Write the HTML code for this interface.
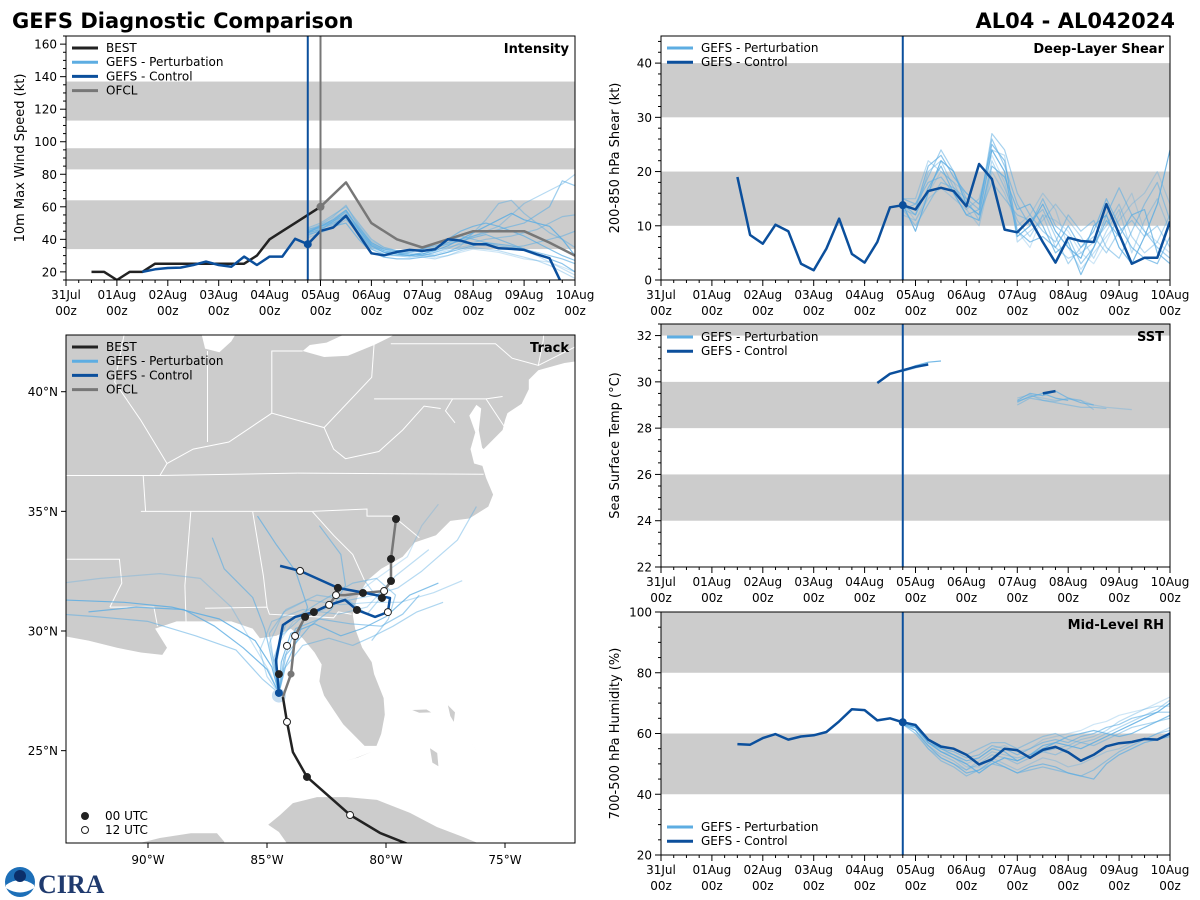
<!DOCTYPE html>
<html><head><meta charset="utf-8">
<style>
html,body{margin:0;padding:0;background:#fff;}
svg{display:block;font-family:"DejaVu Sans","Liberation Sans",sans-serif;}
</style></head>
<body>
<svg id="fig" width="1200" height="900" viewBox="0 0 1200 900" xmlns="http://www.w3.org/2000/svg">
<text x="12" y="28" font-size="21" font-weight="bold" fill="#000">GEFS Diagnostic Comparison</text>
<text x="1175" y="28" font-size="21" font-weight="bold" fill="#000" text-anchor="end">AL04 - AL042024</text>
<g id="logo">
<circle cx="20" cy="882" r="15" fill="#1d6fb8"/>
<path d="M6 885 Q20 875 34 885 L34 888 Q20 897 6 888 Z" fill="#fff"/>
<circle cx="20" cy="876" r="6" fill="#0b2f6b"/>
<text x="38" y="893" font-size="26" font-weight="bold" fill="#1f3a6e" font-family="Liberation Serif,serif">CIRA</text>
</g>
</svg>
<script>
// ---------------- data ----------------
const dayLabels = ["31Jul","01Aug","02Aug","03Aug","04Aug","05Aug","06Aug","07Aug","08Aug","09Aug","10Aug"];
const initDay = 4.75;
const ofclDay = 5.0;

const bestIntStart = 0.5;
const bestInt = [20,20,15,20,20,25,25,25,25,25,25,25,25,30,40,45,50,55,60];
const ofclIntDays = [5.0,5.5,6.0,6.5,7.0,7.5,8.0,8.5,9.0,9.5,10.0];
const ofclInt = [60,75,50,40,35,40,45,45,45,38,30];
const ctrlIntStart = 1.5;
const ctrlInt = [20,21.6,22.4,22.6,24.2,26.3,24.2,23.2,29.4,24.2,29.4,29.4,40.3,37,45.2,47.3,54.5,43,31.4,30.2,32.3,33.5,32.9,33.9,40,39.2,37,37,34.5,34.1,33.5,30.8,28.4,12];
const pertIntStart = 4.75;
const pertInt = [
 [44,48,52,58,46,36,32,31,30,31,33,36,40,44,48,52,56,52,50,48,40,30],
 [42,46,50,55,45,34,30,30,29,30,32,34,38,42,45,48,55,62,66,70,74,80],
 [45,47,49,54,44,35,32,31,32,34,36,38,40,42,44,46,48,50,55,60,76,73],
 [46,49,52,56,48,37,33,32,31,30,31,33,35,37,36,35,34,33,30,26,22,18],
 [43,45,48,50,40,32,29,28,28,29,30,32,34,36,38,37,36,34,31,28,25,20],
 [47,50,55,60,50,40,35,33,32,31,30,32,36,44,52,62,64,56,50,44,40,35],
 [41,44,47,52,44,36,33,32,30,29,28,30,33,35,34,33,31,29,27,24,20,16],
 [44,46,51,57,47,38,34,33,33,34,37,40,45,48,50,48,45,42,38,34,30,27],
 [45,48,50,53,43,34,31,30,30,31,34,38,42,40,38,36,35,36,38,40,42,45],
 [43,47,53,58,49,39,35,33,31,30,29,30,32,34,33,32,30,28,27,26,23,20],
 [46,48,51,55,46,37,33,31,30,32,35,37,39,41,43,40,37,34,32,30,28,25],
 [44,49,54,61,48,38,34,32,31,30,32,35,37,38,40,41,42,44,46,50,54,55]
];

const ctrlShearStart = 1.5;
const ctrlShear = [19,8.3,6.7,10.2,9,3,1.8,5.8,11.3,4.8,3.2,7,13.4,13.8,13,16.4,17,16.4,13.6,21.4,18.6,9.3,8.8,11.2,7,3.2,7.8,7.2,7,14,8.5,3,4.1,4.1,10.8];
const pertShearStart = 4.75;
const pertShear = [
 [14,9,16,22,20,14,12,24,20,8,10,14,9,6,4,10,12,6,3,8,14,24],
 [13,12,20,22,17,15,11,22,17,11,8,12,6,4,5,7,10,14,8,5,7,12],
 [15,14,18,19,16,12,13,26,21,14,10,15,10,8,3,6,12,17,12,9,6,4],
 [12,11,15,17,15,13,10,20,16,10,12,16,13,6,2,5,8,11,14,16,20,14],
 [14,13,21,23,19,16,14,25,22,9,7,8,6,10,6,9,15,10,6,4,3,8],
 [13,10,14,18,17,14,12,18,15,12,11,13,8,3,6,8,5,9,11,8,10,6],
 [15,15,22,20,18,13,15,24,23,7,9,11,14,11,8,4,9,13,5,11,15,9],
 [14,12,17,21,16,12,11,21,19,13,14,10,5,7,1,6,11,8,12,13,5,3],
 [13,14,19,24,20,15,13,27,24,16,12,9,7,12,9,11,6,4,9,14,18,11],
 [14,11,16,20,18,16,14,23,18,9,6,12,11,9,5,3,7,12,16,9,7,5]
];

const ctrlSstSeg1Start = 4.25;
const ctrlSstSeg1 = [29.95,30.35,30.5,30.65,30.75];
const ctrlSstSeg2Start = 7.5;
const ctrlSstSeg2 = [29.5,29.6];
const pertSstSeg1Start = 4.75;
const pertSstSeg1 = [[30.5,30.7,30.85,30.9],[30.45,30.6,30.75],[30.5,30.65,30.8]];
const pertSstSeg2Start = 7.0;
const pertSstSeg2 = [
 [29.1,29.4,29.3,29.2,29.25,29.2,29.0,28.9,28.85,28.8],
 [29.2,29.5,29.4,29.6,29.3,29.1,29.0],
 [29.0,29.3,29.2,29.1,29.0,28.9,28.9,28.85],
 [29.3,29.45,29.2,29.15,29.3,29.2,28.8],
 [29.15,29.35,29.5,29.3,29.2]
];

const ctrlRhStart = 1.5;
const ctrlRh = [56.5,56.3,58.5,59.8,58,59,59.4,60.5,64,68,67.7,64.3,65,63.7,62.8,58,55.7,55,53,49.8,51.5,55,54.5,52,54.6,55.6,53.8,51,53,55.8,56.8,57.2,58.2,58,60];
const pertRhStart = 4.75;
const pertRh = [
 [63,62,57,54,52,50,47,50,52,51,53,55,57,56,55,57,59,61,63,65,67,70],
 [64,61,56,53,51,48,50,53,52,50,52,54,53,55,57,58,60,62,64,66,68,71],
 [63,62,58,55,54,52,53,56,55,53,55,57,58,57,59,60,62,63,65,66,67,67],
 [64,63,57,54,52,49,49,52,50,48,50,52,51,49,50,52,54,55,57,58,60,62],
 [63,61,56,52,50,47,48,51,49,47,49,50,49,47,46,45,50,53,55,57,58,59],
 [64,62,58,56,55,53,55,57,57,55,57,59,60,58,57,56,58,60,62,63,64,65],
 [63,61,55,52,50,48,51,54,53,52,53,54,55,56,58,59,61,64,66,68,69,69],
 [64,62,57,55,53,51,52,55,54,51,53,56,57,59,60,61,60,59,60,62,64,66],
 [63,60,55,51,49,46,48,50,49,47,48,49,48,47,46,48,51,54,56,58,60,61],
 [64,62,58,54,53,50,52,55,56,54,55,58,59,60,61,63,64,66,67,68,70,72]
];

// track data [lon, lat]
const bestTrack = [[-78.99,21.06],[-80.25,21.56],[-81.51,22.31],[-83.32,23.90],[-83.91,24.94],[-84.16,26.20],[-84.33,27.24]];
const ofclTrack = [[-84.33,27.24],[-83.99,28.20],[-83.82,29.79],[-83.40,30.59],[-83.03,30.79],[-82.39,31.09],[-82.10,31.50],[-81.72,31.50],[-80.97,31.59],[-80.08,31.67],[-79.79,32.09],[-79.79,33.01],[-79.58,34.68]];
const ctrlTrack = [[-84.50,27.41],[-84.62,28.79],[-84.33,30.25],[-83.82,30.59],[-83.03,30.79],[-82.39,31.09],[-81.72,31.30],[-81.22,30.88],[-80.46,30.59],[-79.92,30.79],[-79.83,31.38],[-80.67,31.55],[-82.02,31.80],[-83.61,32.51],[-84.45,32.72]];
const trackMarkers = [[-81.51,22.31,0],[-83.32,23.90,1],[-84.16,26.20,0],[-84.50,28.20,1],[-84.16,29.38,0],[-83.82,29.79,0],[-83.40,30.59,1],[-83.03,30.79,1],[-82.39,31.09,0],[-81.22,30.88,1],[-79.92,30.79,0],[-80.17,31.38,1],[-80.97,31.59,1],[-82.10,31.50,0],[-82.02,31.80,1],[-83.61,32.51,0],[-80.08,31.67,0],[-79.79,32.09,1],[-79.79,33.01,1],[-79.58,34.68,1]];
const ofclMarkers = [[-83.99,28.20]];
const pertTracks = [
 [[-84.5,27.4],[-84.8,28.5],[-85.5,29.6],[-87,30.5],[-89,31],[-91,31.2],[-93.6,31.3]],
 [[-84.5,27.4],[-84.6,28.6],[-84.4,29.8],[-83.5,30.6],[-82,31.2],[-80.5,31.5],[-79.5,31.8],[-78.5,32.5],[-77,33.8],[-76.2,35.2]],
 [[-84.5,27.4],[-84.3,28.8],[-83.8,30.1],[-82.8,30.5],[-81.5,30.3],[-80.2,30.2],[-79.3,30.7],[-78.6,31.5]],
 [[-84.5,27.4],[-84.9,28.3],[-85.8,29.8],[-86.5,31],[-87.8,32.2],[-89.5,32.4],[-92,32.2],[-93.6,32]],
 [[-84.5,27.4],[-84.2,28.6],[-83.7,29.7],[-83.3,31],[-83.8,32.5],[-84.6,33.6],[-85.4,34.8]],
 [[-84.5,27.4],[-84.7,28.9],[-84.2,30.3],[-82.8,31.2],[-81.4,32],[-80.4,32.2],[-79.6,31.5],[-79.9,30.5],[-80.6,29.6]],
 [[-84.5,27.4],[-85,28.1],[-85.3,29.2],[-84.8,30.4],[-83.5,30.9],[-82,30.7],[-80.8,31],[-79.6,32.3],[-78.2,33.4]],
 [[-84.5,27.4],[-84.4,28.7],[-84,29.9],[-83,30.3],[-81.9,29.8],[-81,30.1],[-80,30.6],[-79,31.5],[-77.8,32]],
 [[-84.5,27.4],[-85.2,28],[-86.3,29.2],[-88,29.8],[-90,30.4],[-92.2,30.6],[-93.6,30.7]],
 [[-84.5,27.4],[-84.6,28.4],[-84.5,29.5],[-83.9,30.4],[-82.6,30.9],[-81.2,31.6],[-80.1,32.4],[-79.1,33.1],[-78.5,34.4],[-77.8,35.3]],
 [[-84.5,27.4],[-84.8,28.8],[-85.1,30.1],[-85.6,31.4],[-86.8,32.6],[-87.3,33.9]],
 [[-84.5,27.4],[-84.3,28.4],[-83.5,29.4],[-82.4,29.7],[-81.4,29.4],[-80.5,29.8],[-79.7,30.2],[-78.7,30.8],[-77.6,31.2]],
 [[-84.5,27.4],[-84.7,28.6],[-84.9,29.9],[-84.2,30.9],[-82.9,31.5],[-81.6,31.3],[-80.8,30.7],[-80.3,31.3],[-80.9,32.1]],
 [[-84.5,27.4],[-85,28.4],[-86,29.3],[-87.2,30.2],[-88.5,30.9],[-90.5,31],[-92.5,30.8]],
 [[-84.5,27.4],[-84.2,29],[-83.2,30.2],[-82.3,30.9],[-81.7,31.9],[-81.9,33.2],[-82.8,34.4]],
 [[-84.5,27.4],[-84.6,28.2],[-84.9,29.5],[-84.3,30.8],[-83.3,31.3],[-81.9,31.1],[-80.6,31.2],[-79.4,31.2],[-78,31.6],[-76.8,32.1]]
];

// land outlines [lon,lat]
const landMain = [[-93.6,29.8],[-92.5,29.6],[-91.3,29.3],[-90.3,29.1],[-89.4,29.0],[-89.2,29.3],[-89.7,30.1],[-88.8,30.4],[-88,30.4],[-87.4,30.4],[-86.5,30.4],[-85.6,30.1],[-85.3,29.7],[-84.6,29.8],[-84.0,30.1],[-83.5,29.7],[-83.0,29.1],[-82.7,28.6],[-82.8,27.9],[-82.6,27.3],[-82.2,26.7],[-81.8,26.1],[-81.3,25.6],[-80.9,25.2],[-80.4,25.2],[-80.2,25.7],[-80.05,26.5],[-80.1,27.2],[-80.5,28.2],[-80.6,28.7],[-81.0,29.3],[-81.3,30.1],[-81.4,30.7],[-81.2,31.4],[-80.8,32.1],[-80.2,32.6],[-79.3,33.1],[-78.8,33.7],[-77.9,34.0],[-77.3,34.6],[-76.5,34.7],[-75.7,35.2],[-75.5,35.7],[-75.8,36.4],[-75.95,36.9],[-76.3,37.0],[-76.3,38.0],[-75.9,37.6],[-75.6,37.9],[-75.1,38.4],[-75.0,38.8],[-74.9,39.1],[-74.3,39.5],[-74.0,40.1],[-74.0,40.5],[-73.6,40.9],[-72.5,41.2],[-71.8,41.3],[-71.3,41.5],[-70.7,41.5],[-70.0,41.7],[-70.5,42.2],[-70.8,42.7],[-70.6,43.2],[-94,43.2],[-94,29.8]];
const lakeErie = [[-83.5,41.7],[-82.6,41.45],[-81.6,41.5],[-80.5,41.95],[-79.8,42.3],[-78.9,42.85],[-79.8,42.85],[-81.3,42.6],[-82.5,42.05],[-83.2,41.95]];
const lakeMichigan = [[-87.8,42.6],[-87.6,41.8],[-87.0,41.65],[-86.5,42.1],[-86.2,42.6]];
const chesapeake = [[-76.3,37.0],[-76.45,37.6],[-76.25,38.3],[-76.5,39.0],[-76.2,39.45],[-76.0,39.3],[-76.1,38.4],[-75.95,37.6]];
const cuba = [[-84.95,21.9],[-84.45,22.31],[-83.91,22.81],[-82.9,23.06],[-81.64,23.06],[-80.38,22.94],[-78.99,22.40],[-77.86,21.81],[-76.76,21.39],[-75.92,21.05],[-75.9,20.9],[-84.0,20.9],[-84.5,21.6]];
const isleOfYouth = [[-83.1,21.85],[-82.7,21.9],[-82.6,21.6],[-83.0,21.5]];
const yucatan = [[-94,20.9],[-90.4,20.9],[-90.3,21.15],[-89.5,21.35],[-88.2,21.55],[-87.1,21.55],[-86.8,21.2],[-86.8,20.9]];
const bahamas = [
 [[-78.9,26.7],[-78.3,26.72],[-78.1,26.6],[-78.6,26.58]],
 [[-77.4,26.9],[-77.1,26.6],[-77.15,26.2],[-77.3,26.45]],
 [[-78.15,25.1],[-77.85,24.9],[-77.8,24.35],[-78.05,24.5]],
 [[-76.4,25.3],[-76.2,25.0],[-76.3,25.15]],
 [[-80.6,24.95],[-81.3,24.68],[-81.7,24.57],[-81.2,24.7]]
];
const stateBorders = [
 [[-87.6,30.95],[-85.0,31.0],[-84.9,30.7],[-82.2,30.55],[-82.0,30.8],[-81.45,30.7]],
 [[-85.0,31.0],[-85.15,32.3],[-85.6,34.98]],
 [[-88.4,30.3],[-88.45,31.9],[-88.2,34.99]],
 [[-91.6,31.0],[-89.75,31.0],[-89.6,30.2]],
 [[-91.6,31.0],[-91.1,32.0],[-91.2,33.0],[-94,33.0]],
 [[-90.3,35.0],[-84.3,35.0],[-83.1,35.0]],
 [[-83.1,35.0],[-82.2,34.0],[-81.4,33.2],[-80.9,32.1]],
 [[-83.1,35.0],[-80.8,35.1],[-80.8,34.8],[-79.7,34.8],[-78.6,33.9]],
 [[-83.7,36.6],[-75.9,36.55]],
 [[-90.2,36.5],[-89.5,36.5],[-83.7,36.6]],
 [[-94,36.5],[-90.2,36.5],[-90.1,35.0]],
 [[-89.5,36.5],[-89.2,37.0],[-88.1,37.6],[-86.6,37.9],[-84.8,39.1],[-82.6,38.5],[-82.2,37.6],[-81.7,37.2],[-80.3,37.5],[-79.3,38.4],[-78.4,39.4],[-77.7,39.3]],
 [[-82.6,38.5],[-80.6,40.6],[-80.5,42.0]],
 [[-80.5,39.7],[-75.8,39.7],[-75.1,39.8]],
 [[-84.8,39.1],[-84.8,41.7],[-83.5,41.7]],
 [[-87.5,37.9],[-87.5,41.7]],
 [[-89.2,37.0],[-90.3,38.8],[-91.4,40.4],[-91.0,42.4]],
 [[-79.8,42.0],[-75.4,42.0],[-74.7,41.4],[-73.6,41.1],[-73.4,42.1],[-73.3,43.2]],
 [[-73.6,41.1],[-71.8,42.0],[-71.8,41.3]],
 [[-75.8,39.7],[-75.0,38.5]],
 [[-77.2,39.7],[-77.5,39.2],[-77.1,38.7]]
];

// ---------------- helpers ----------------
const NS = "http://www.w3.org/2000/svg";
const svg = document.getElementById("fig");
function mk(tag, attrs, parent) {
  const e = document.createElementNS(NS, tag);
  for (const k in attrs) e.setAttribute(k, attrs[k]);
  (parent || svg).appendChild(e);
  return e;
}
function txt(x, y, s, size, anchor, parent, extra) {
  const t = mk("text", Object.assign({x: x, y: y, "font-size": size, "text-anchor": anchor || "start", fill: "#000"}, extra || {}), parent);
  t.textContent = s;
  return t;
}
const C_CTRL = "#0b4f9c", C_PERT = "#5dade2", C_BEST = "#222222", C_OFCL = "#777777", C_BAND = "#cccccc";

function makeTimePanel(name, x0, x1, y0, y1, ymin, ymax, majorStep, minorStep, bands, ylabel, title) {
  const g = mk("g", {});
  
  
  const sx = d => x0 + (d / 10) * (x1 - x0);
  const sy = v => y1 - (v - ymin) / (ymax - ymin) * (y1 - y0);
  const cid = name + "-clip";
  const cp = mk("clipPath", {id: cid}, g);
  mk("rect", {x: x0, y: y0, width: x1 - x0, height: y1 - y0}, cp);
  const plot = mk("g", {"clip-path": "url(#" + cid + ")"}, g);
  bands.forEach(b => {
    const r = mk("rect", {x: x0, y: sy(b[1]), width: x1 - x0, height: sy(b[0]) - sy(b[1]), fill: C_BAND}, plot);
    
    
  });
  for (let i = 0; i <= 40; i++) {
    const x = sx(i * 0.25);
    const major = i % 4 === 0;
    mk("line", {x1: x, x2: x, y1: y1, y2: y1 + (major ? 6 : 3), stroke: "#000", "stroke-width": 1}, g);
    if (major) {
      const t1 = txt(x, y1 + 19, dayLabels[i / 4], 12, "middle", g);
      
      
      const t2 = txt(x, y1 + 35, "00z", 12, "middle", g);
      
      
    }
  }
  for (let v = Math.ceil(ymin / minorStep) * minorStep; v <= ymax + 1e-9; v += minorStep) {
    const y = sy(v);
    const major = Math.abs(v / majorStep - Math.round(v / majorStep)) < 1e-6;
    mk("line", {x1: x0, x2: x0 - (major ? 6 : 3), y1: y, y2: y, stroke: "#000", "stroke-width": 1}, g);
    if (major) {
      const t = txt(x0 - 9, y + 4.5, String(Math.round(v)), 12, "end", g);
      
      
    }
  }
  const yl = txt(0, 0, ylabel, 13, "middle", g, {transform: "translate(" + (x0 - 42) + "," + ((y0 + y1) / 2) + ") rotate(-90)"});
  
  
  const tt = txt(x1 - 6, y0 + 17, title, 13, "end", g, {"font-weight": "bold"});
  
  
  return {g, plot, sx, sy, x0, x1, y0, y1};
}
function series(P, start, vals, color, width, name, opacity) {
  const pts = vals.map((v, i) => P.sx(start + i * 0.25).toFixed(1) + "," + P.sy(v).toFixed(1)).join(" ");
  const e = mk("polyline", {points: pts, fill: "none", stroke: color, "stroke-width": width, "stroke-linejoin": "round", opacity: opacity || 1}, P.plot);
  
  
  return e;
}
function seriesXY(P, days, vals, color, width, name) {
  const pts = vals.map((v, i) => P.sx(days[i]).toFixed(1) + "," + P.sy(v).toFixed(1)).join(" ");
  const e = mk("polyline", {points: pts, fill: "none", stroke: color, "stroke-width": width, "stroke-linejoin": "round"}, P.plot);
  
  
}
const pertOpac = [0.85, 0.45, 0.6, 0.35, 0.7, 0.5, 0.4, 0.75, 0.55, 0.3, 0.65, 0.5, 0.45, 0.8, 0.6, 0.4];
function vline(P, d, color, name) {
  const e = mk("line", {x1: P.sx(d), x2: P.sx(d), y1: P.y0, y2: P.y1, stroke: color, "stroke-width": 2}, P.plot);
  
  
}
function frame(P) {
  mk("rect", {x: P.x0, y: P.y0, width: P.x1 - P.x0, height: P.y1 - P.y0, fill: "none", stroke: "#000", "stroke-width": 1}, P.g);
}
function legend(parent, x, y, items) {
  const g = mk("g", {}, parent);
  
  
  items.forEach((it, i) => {
    const yy = y + i * 14.2;
    const ln = mk("line", {x1: x, x2: x + 26, y1: yy, y2: yy, stroke: it[1], "stroke-width": 3}, g);
    
    
    const t = txt(x + 34, yy + 4, it[0], 12, "start", g);
    
    
  });
}

// ---------------- Intensity ----------------
const P1 = makeTimePanel("intensity", 66, 575, 36, 280, 15, 165, 20, 5, [[34, 64], [83, 96], [113, 137]], "10m Max Wind Speed (kt)", "Intensity");
pertInt.forEach((m, i) => series(P1, pertIntStart, m, C_PERT, 1.2, "perturbation-intensity-line", pertOpac[i]));
series(P1, bestIntStart, bestInt, C_BEST, 2.5, "best-intensity-line");
seriesXY(P1, ofclIntDays, ofclInt, C_OFCL, 2.5, "ofcl-intensity-line");
series(P1, ctrlIntStart, ctrlInt, C_CTRL, 2.5, "control-intensity-line");
vline(P1, initDay, C_CTRL, "init-time-line");
vline(P1, ofclDay, C_OFCL, "ofcl-time-line");
mk("circle", {cx: P1.sx(initDay), cy: P1.sy(ctrlInt[(initDay - ctrlIntStart) / 0.25]), r: 4, fill: C_CTRL}, P1.plot);
mk("circle", {cx: P1.sx(ofclDay), cy: P1.sy(ofclInt[0]), r: 4, fill: C_OFCL}, P1.plot);
frame(P1);
legend(P1.g, 72, 48, [["BEST", C_BEST], ["GEFS - Perturbation", C_PERT], ["GEFS - Control", C_CTRL], ["OFCL", C_OFCL]]);

// ---------------- Shear ----------------
const P2 = makeTimePanel("shear", 661, 1170, 36, 280, 0, 45, 10, 2, [[10, 20], [30, 40]], "200-850 hPa Shear (kt)", "Deep-Layer Shear");
pertShear.forEach((m, i) => series(P2, pertShearStart, m, C_PERT, 1.2, "perturbation-shear-line", pertOpac[i]));
series(P2, ctrlShearStart, ctrlShear, C_CTRL, 2.5, "control-shear-line");
vline(P2, initDay, C_CTRL, "init-time-line");
mk("circle", {cx: P2.sx(initDay), cy: P2.sy(ctrlShear[(initDay - ctrlShearStart) / 0.25]), r: 4, fill: C_CTRL}, P2.plot);
frame(P2);
legend(P2.g, 667, 48, [["GEFS - Perturbation", C_PERT], ["GEFS - Control", C_CTRL]]);

// ---------------- SST ----------------
const P3 = makeTimePanel("sst", 661, 1170, 324, 567, 22, 32.5, 2, 0.5, [[24, 26], [28, 30], [32, 34]], "Sea Surface Temp (°C)", "SST");
pertSstSeg1.forEach((m, i) => series(P3, pertSstSeg1Start, m, C_PERT, 1.2, "perturbation-sst-line", pertOpac[i]));
pertSstSeg2.forEach((m, i) => series(P3, pertSstSeg2Start, m, C_PERT, 1.2, "perturbation-sst-line", pertOpac[i + 3]));
series(P3, ctrlSstSeg1Start, ctrlSstSeg1, C_CTRL, 2.5, "control-sst-line");
series(P3, ctrlSstSeg2Start, ctrlSstSeg2, C_CTRL, 2.5, "control-sst-line");
vline(P3, initDay, C_CTRL, "init-time-line");
frame(P3);
legend(P3.g, 667, 337, [["GEFS - Perturbation", C_PERT], ["GEFS - Control", C_CTRL]]);

// ---------------- RH ----------------
const P4 = makeTimePanel("rh", 661, 1170, 612, 855, 20, 100, 20, 5, [[40, 60], [80, 100]], "700-500 hPa Humidity (%)", "Mid-Level RH");
pertRh.forEach((m, i) => series(P4, pertRhStart, m, C_PERT, 1.2, "perturbation-rh-line", pertOpac[i]));
series(P4, ctrlRhStart, ctrlRh, C_CTRL, 2.5, "control-rh-line");
vline(P4, initDay, C_CTRL, "init-time-line");
mk("circle", {cx: P4.sx(initDay), cy: P4.sy(ctrlRh[(initDay - ctrlRhStart) / 0.25]), r: 4, fill: C_CTRL}, P4.plot);
frame(P4);
legend(P4.g, 667, 827, [["GEFS - Perturbation", C_PERT], ["GEFS - Control", C_CTRL]]);

// ---------------- Track map ----------------
(function () {
  const x0 = 66, x1 = 575, y0 = 335, y1 = 843;
  const lx = lon => 148 + (lon + 90) * 23.8;
  const ly = lat => 631 - (lat - 30) * 23.93;
  const g = mk("g", {});
  
  
  const cp = mk("clipPath", {id: "map-clip"}, g);
  mk("rect", {x: x0, y: y0, width: x1 - x0, height: y1 - y0}, cp);
  const plot = mk("g", {"clip-path": "url(#map-clip)"}, g);
  const pstr = arr => arr.map(p => lx(p[0]).toFixed(1) + "," + ly(p[1]).toFixed(1)).join(" ");
  function poly(arr, fill, name) {
    const e = mk("polygon", {points: pstr(arr), fill: fill, stroke: "none"}, plot);
    
    
  }
  poly(landMain, "#cccccc", "us-landmass");
  poly(lakeErie, "#ffffff", "lake-erie");
  poly(lakeMichigan, "#ffffff", "lake-michigan");
  poly(chesapeake, "#ffffff", "chesapeake-bay");
  poly(cuba, "#cccccc", "cuba");
  poly(isleOfYouth, "#cccccc", "isle-of-youth");
  poly(yucatan, "#cccccc", "yucatan");
  bahamas.forEach(b => poly(b, "#cccccc", "bahamas-island"));
  stateBorders.forEach(b => {
    const e = mk("polyline", {points: pstr(b), fill: "none", stroke: "#ffffff", "stroke-width": 1}, plot);
    
    
  });
  pertTracks.forEach((t, i) => {
    const e = mk("polyline", {points: pstr(t), fill: "none", stroke: C_PERT, "stroke-width": 1.2, opacity: pertOpac[i], "stroke-linejoin": "round"}, plot);
    
    
  });
  mk("circle", {cx: lx(-84.5), cy: ly(27.3), r: 7, fill: "#c6ddf0"}, plot);
  const bt = mk("polyline", {points: pstr(bestTrack), fill: "none", stroke: C_BEST, "stroke-width": 2.5}, plot);
  
  
  const ot = mk("polyline", {points: pstr(ofclTrack), fill: "none", stroke: C_OFCL, "stroke-width": 2.5}, plot);
  
  
  const ct = mk("polyline", {points: pstr(ctrlTrack), fill: "none", stroke: C_CTRL, "stroke-width": 2.5, "stroke-linejoin": "round"}, plot);
  
  
  mk("circle", {cx: lx(ctrlTrack[0][0]), cy: ly(ctrlTrack[0][1]), r: 4, fill: C_CTRL}, plot);
  ofclMarkers.forEach(m => mk("circle", {cx: lx(m[0]), cy: ly(m[1]), r: 3.5, fill: C_OFCL}, plot));
  trackMarkers.forEach(m => {
    const c = mk("circle", {cx: lx(m[0]), cy: ly(m[1]), r: 3.5, fill: m[2] ? "#222" : "#fff", stroke: "#222", "stroke-width": 1}, plot);
    
    
  });
  mk("rect", {x: x0, y: y0, width: x1 - x0, height: y1 - y0, fill: "none", stroke: "#000", "stroke-width": 1}, g);
  [-90, -85, -80, -75].forEach(lon => {
    const x = lx(lon);
    mk("line", {x1: x, x2: x, y1: y1, y2: y1 + 5, stroke: "#000"}, g);
    const t = txt(x, y1 + 21, Math.abs(lon) + "°W", 12, "middle", g);
    
    
  });
  [25, 30, 35, 40].forEach(lat => {
    const y = ly(lat);
    mk("line", {x1: x0, x2: x0 - 5, y1: y, y2: y, stroke: "#000"}, g);
    const t = txt(x0 - 8, y + 4.5, lat + "°N", 12, "end", g);
    
    
  });
  const tt = txt(x1 - 6, y0 + 17, "Track", 13, "start", g, {"font-weight": "bold", "text-anchor": "end"});
  
  
  legend(g, 72, 347, [["BEST", C_BEST], ["GEFS - Perturbation", C_PERT], ["GEFS - Control", C_CTRL], ["OFCL", C_OFCL]]);
  const lg = mk("g", {}, g);
  
  
  mk("circle", {cx: 85, cy: 816, r: 3.5, fill: "#222", stroke: "#222"}, lg);
  txt(105, 820, "00 UTC", 12, "start", lg);
  mk("circle", {cx: 85, cy: 830, r: 3.5, fill: "#fff", stroke: "#222"}, lg);
  txt(105, 834, "12 UTC", 12, "start", lg);
})();
</script>
</body></html>
